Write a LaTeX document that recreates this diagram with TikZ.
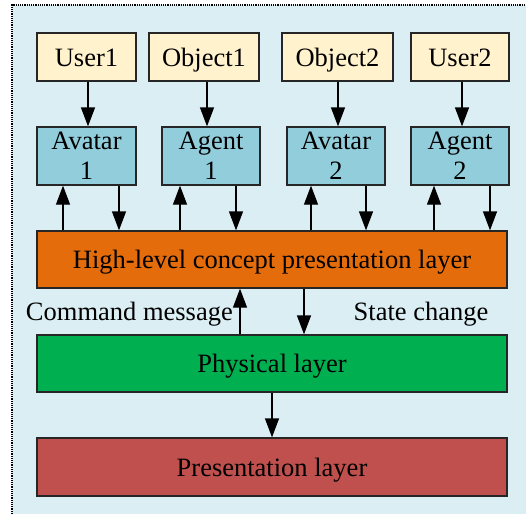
\documentclass[tikz,border=0pt]{standalone}
\usepackage{fontspec}
\setmainfont{Liberation Serif}
\usetikzlibrary{arrows.meta,calc}
\definecolor{panelbg}{HTML}{DAEEF3}
\definecolor{srcfill}{HTML}{FFF2CC}
\definecolor{agentfill}{HTML}{92CDDC}
\definecolor{hlfill}{HTML}{E46C0A}
\definecolor{physfill}{HTML}{00B050}
\definecolor{presfill}{HTML}{C0504D}
\begin{document}
\begin{tikzpicture}[x=1pt,y=-1pt,
  box/.style={draw=black!85,line width=1.3pt,inner sep=0pt,
    font=\fontsize{26.5}{30}\selectfont,align=center},
  oneline/.style={text height=18.5pt,text depth=0pt},
  srcbox/.style={box,oneline,fill=srcfill,minimum height=48pt},
  agentbox/.style={box,fill=agentfill,minimum width=98pt,minimum height=58pt},
  layerbox/.style={box,oneline,minimum width=470pt,minimum height=57pt},
  arr/.style={line width=1.3pt,-{Triangle[length=19pt,width=14pt]}},
  lbl/.style={font=\fontsize{26.5}{30}\selectfont,inner sep=0pt,oneline}]
\useasboundingbox (0,0) rectangle (526,514);
% panel background with dotted left and top edges
\fill[panelbg] (12,5) rectangle (526,514);
\draw[densely dotted,line width=1.2pt] (12,514) -- (12,5) -- (526,5);

% sources
\node[srcbox,minimum width=99pt] (u1) at (86.5,57) {User1};
\node[srcbox,minimum width=110pt] (o1) at (204,57) {Object1};
\node[srcbox,minimum width=111pt] (o2) at (337.5,57) {Object2};
\node[srcbox,minimum width=98pt] (u2) at (460,57) {User2};

% avatars and agents
\node[agentbox,minimum width=99pt] (av1) at (86.5,156) {Avatar\\1};
\node[agentbox] (ag1) at (211,156) {Agent\\1};
\node[agentbox] (av2) at (336,156) {Avatar\\2};
\node[agentbox] (ag2) at (460,156) {Agent\\2};

% layers
\node[layerbox,fill=hlfill] (hl) at (272,259.5) {High-level concept presentation layer};
\node[layerbox,fill=physfill] (ph) at (272,363.5) {Physical layer};
\node[layerbox,fill=presfill,minimum height=58pt] (pr) at (272,467) {Presentation layer};

% sources feed their avatar or agent
\draw[arr] ($(u1.south)+(1.5,0)$) coordinate (c1) -- (c1 |- av1.north);
\draw[arr] ($(o1.south)+(3,0)$) coordinate (c2) -- (c2 |- ag1.north);
\draw[arr] ($(o2.south)+(0.5,0)$) coordinate (c3) -- (c3 |- av2.north);
\draw[arr] ($(u2.south)+(2,0)$) coordinate (c4) -- (c4 |- ag2.north);

% exchange with the high-level layer
\coordinate (a1u) at ($(av1.south)+(-23.5,0)$);
\coordinate (a1d) at ($(av1.south)+(32.5,0)$);
\coordinate (g1u) at ($(ag1.south)+(-31,0)$);
\coordinate (g1d) at ($(ag1.south)+(25,0)$);
\coordinate (a2u) at ($(av2.south)+(-25,0)$);
\coordinate (a2d) at ($(av2.south)+(30,0)$);
\coordinate (g2u) at ($(ag2.south)+(-26,0)$);
\coordinate (g2d) at ($(ag2.south)+(30,0)$);
\foreach \p in {a1u,g1u,a2u,g2u}
  \draw[arr] (\p |- hl.north) -- (\p);
\foreach \p in {a1d,g1d,a2d,g2d}
  \draw[arr] (\p) -- (\p |- hl.north);

% high-level layer and physical layer
\coordinate (cmd) at ($(ph.north)+(-32,0)$);
\coordinate (st) at ($(ph.north)+(32,0)$);
\draw[arr] (cmd) -- (cmd |- hl.south);
\draw[arr] (st |- hl.south) -- (st);
\node[lbl,anchor=east] (cmdlbl) at (233,311) {Command message};
\node[lbl] (stlbl) at (421,311) {State change};

% physical layer drives presentation
\draw[arr] (ph.south) -- (pr.north);
\end{tikzpicture}
\end{document}
